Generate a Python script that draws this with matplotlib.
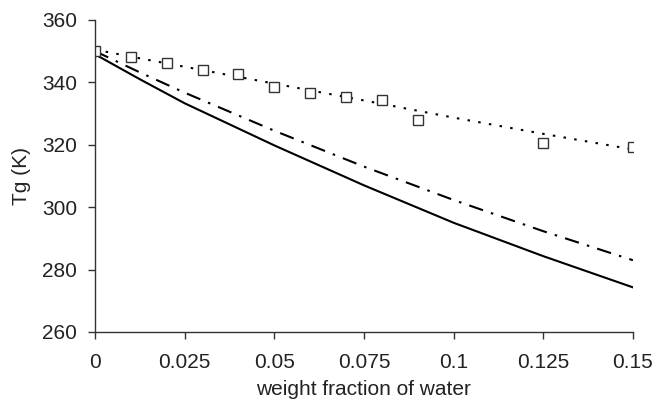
import matplotlib.pyplot as plt
import numpy as np

plt.rcParams['font.family'] = ['Liberation Sans', 'DejaVu Sans']

# experimental points
x_exp = [0, 0.01, 0.02, 0.03, 0.04, 0.05, 0.06, 0.07, 0.08, 0.09, 0.125, 0.15]
tg_exp = [350, 348, 346.3, 344, 342.6, 338.6, 336.5, 335.3, 334.5, 328, 320.7, 319.3]

# model curves
x_model = [0, 0.0125, 0.025, 0.05, 0.075, 0.1, 0.125, 0.15]
tg_solid = [349, 341, 333.3, 319.8, 307, 295, 284.3, 274.3]
tg_dashdot = [350, 343.2, 336.7, 324.5, 313, 302.3, 292.3, 283]
tg_dotted = [350.5, 347.7, 345, 339.6, 334.2, 328.7, 323.5, 318.5]

x_ticks = [0, 0.025, 0.05, 0.075, 0.1, 0.125, 0.15]
x_tick_labels = ['0', '0.025', '0.05', '0.075', '0.1', '0.125', '0.15']
y_ticks = [260, 280, 300, 320, 340, 360]

fig = plt.figure(figsize=(6.52, 3.99), dpi=100)
ax = fig.add_axes([0.1457, 0.168, 0.825, 0.782])

ax.plot(x_model, tg_solid, color='black', lw=1.5, ls='-')
ax.plot(x_model, tg_dashdot, color='black', lw=1.5, ls=(0, (7, 4, 1.2, 4)))
ax.plot(x_model, tg_dotted, color='black', lw=1.5, ls=(0, (1.2, 4)))
ax.plot(x_exp, tg_exp, ls='none', marker='s', ms=7.5, mfc='white',
        mec='#333333', mew=1.0)

ax.set_xlim(0, 0.15)
ax.set_ylim(260, 360)
ax.set_xticks(x_ticks)
ax.set_xticklabels(x_tick_labels)
ax.set_yticks(y_ticks)

for side in ['top', 'right']:
    ax.spines[side].set_visible(False)
for side in ['left', 'bottom']:
    ax.spines[side].set_color('#333333')
    ax.spines[side].set_linewidth(1.0)

ax.tick_params(axis='both', direction='out', length=5, width=1.0,
               color='#333333', labelsize=15, labelcolor='#222222')
ax.tick_params(axis='x', pad=10)
ax.tick_params(axis='y', pad=8)

ax.set_xlabel('weight fraction of water', fontsize=15, color='#222222', labelpad=6)
ax.set_ylabel('Tg (K)', fontsize=15, color='#222222', labelpad=8)

fig.savefig('out.png', dpi=100)
